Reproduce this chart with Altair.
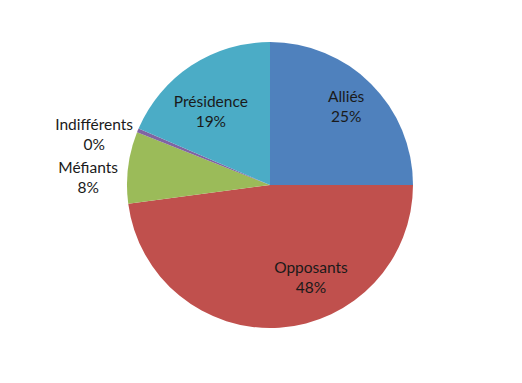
import math
import altair as alt
import pandas as pd

categories = ["Alliés", "Opposants", "Méfiants", "Indifférents", "Présidence"]
values = [25.0, 47.9, 8.1, 0.45, 18.55]
colors = ["#4F81BD", "#C0504D", "#9BBB59", "#8064A2", "#4BACC6"]

# label layout: (angle in degrees clockwise from 12 o'clock, radius in px)
label_layout = {
    "Alliés": (44.3, 109),
    "Opposants": (156.3, 102),
    "Méfiants": (272.2, 182),
    "Indifférents": (286.0, 183),
    "Présidence": (321.0, 94),
}

df = pd.DataFrame({"cat": categories, "val": values, "order": range(len(categories))})
total = sum(values)
df["label"] = [f"{c}\n{round(v / total * 100):d}%" for c, v in zip(categories, values)]
df["lang"] = [math.radians(label_layout[c][0]) for c in categories]
df["lr"] = [label_layout[c][1] for c in categories]

CX, CY, R = 262, 177, 143

base = alt.Chart(df)

pie = base.mark_arc(outerRadius=R).encode(
    theta=alt.Theta("val:Q", stack=True),
    order=alt.Order("order:Q"),
    color=alt.Color(
        "cat:N",
        scale=alt.Scale(domain=categories, range=colors),
        legend=None,
    ),
    x=alt.value(CX),
    y=alt.value(CY),
)

labels = base.mark_text(
    font="Lato",
    fontSize=15.5,
    color="#1a1a1a",
    lineBreak="\n",
    lineHeight=20,
    align="center",
    baseline="middle",
    dy=-10,
).encode(
    text="label:N",
    theta=alt.Theta("lang:Q", scale=None),
    radius=alt.Radius("lr:Q", scale=None),
    x=alt.value(CX),
    y=alt.value(CY),
)

chart = (
    alt.layer(pie, labels)
    .properties(width=504, height=360, padding=0, autosize=alt.AutoSizeParams(type="none"))
    .configure_view(stroke=None)
)

chart.save("out.html", embed_options={"renderer": "svg", "actions": False})
